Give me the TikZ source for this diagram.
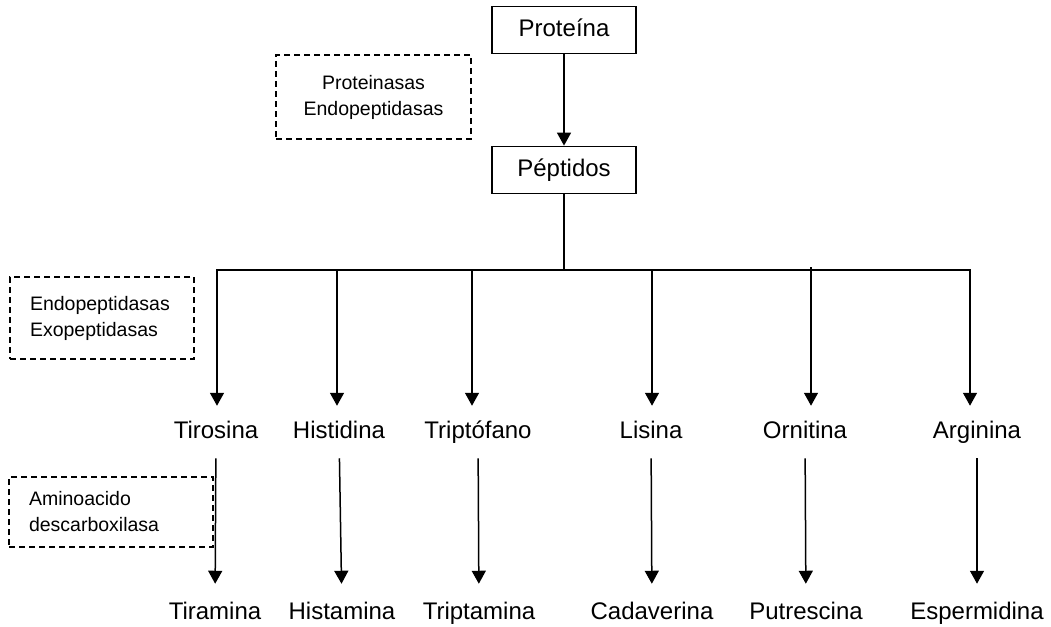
\documentclass[tikz,border=0pt]{standalone}
\usepackage{fontspec}
\setmainfont{Liberation Sans}
\usepackage{tikz}
\usetikzlibrary{arrows.meta}

\begin{document}
\begin{tikzpicture}[x=1pt,y=-1pt,->,>={Triangle[length=13pt,width=14pt]},line width=1.5pt,
    main node/.style={draw,line width=1.8pt,minimum width=144pt,minimum height=47pt,
      font=\fontsize{24}{29}\selectfont,text height=18pt,text depth=5pt},
    amino node/.style={font=\fontsize{24}{29}\selectfont,text height=18pt,text depth=5pt,
      inner xsep=2pt,inner ysep=14pt},
    amine node/.style={amino node,inner ysep=17pt},
    enzyme node/.style={draw,dash pattern=on 6pt off 4pt,line width=1.3pt,
      font=\fontsize{19.5}{26}\selectfont}]
  \useasboundingbox (0,0) rectangle (1051,626);

  \node[main node] (prot) at (564,30) {Proteína};
  \node[main node] (pept) at (564,170) {Péptidos};
  \node[enzyme node,minimum width=195pt,minimum height=84pt,align=center] (enz1) at (373.5,97)
    {Proteinasas\\Endopeptidasas};
  \node[enzyme node,text width=144pt,inner xsep=20pt,minimum height=82pt,align=left] (enz2) at (102,318)
    {Endopeptidasas\\Exopeptidasas};
  \node[enzyme node,text width=164pt,inner xsep=20pt,minimum height=70pt,align=left] (enz3) at (111,512)
    {Aminoacido\\descarboxilasa};

  \node[amino node] (tir) at (216,432) {Tirosina};
  \node[amino node] (his) at (339,432) {Histidina};
  \node[amino node] (tri) at (478,432) {Triptófano};
  \node[amino node] (lis) at (651,432) {Lisina};
  \node[amino node] (orn) at (805,432) {Ornitina};
  \node[amino node] (arg) at (977,432) {Arginina};

  \node[amine node] (tira) at (215,613) {Tiramina};
  \node[amine node] (hista) at (342,613) {Histamina};
  \node[amine node] (tripta) at (479,613) {Triptamina};
  \node[amine node] (cad) at (652,613) {Cadaverina};
  \node[amine node] (put) at (806,613) {Putrescina};
  \node[amine node] (esp) at (977,613) {Espermidina};

  \coordinate (b1) at (217,270);
  \coordinate (b2) at (337,270);
  \coordinate (b3) at (472,270);
  \coordinate (b4) at (652,270);
  \coordinate (b5) at (811,267);
  \coordinate (b6) at (970,270);

  \draw[-] (pept) -- (pept |- b1);
  \draw[-,line cap=rect] (b1) -- (b6);

  \path (prot) edge (pept)
    (b1) edge (b1 |- tir.north)
    (b2) edge (b2 |- his.north)
    (b3) edge (b3 |- tri.north)
    (b4) edge (b4 |- lis.north)
    (b5) edge (b5 |- orn.north)
    (b6) edge (b6 |- arg.north)
    (tir) edge (tira)
    (his) edge (hista)
    (tri) edge (tripta)
    (lis) edge (cad)
    (orn) edge (put)
    (arg) edge (esp);
\end{tikzpicture}
\end{document}
